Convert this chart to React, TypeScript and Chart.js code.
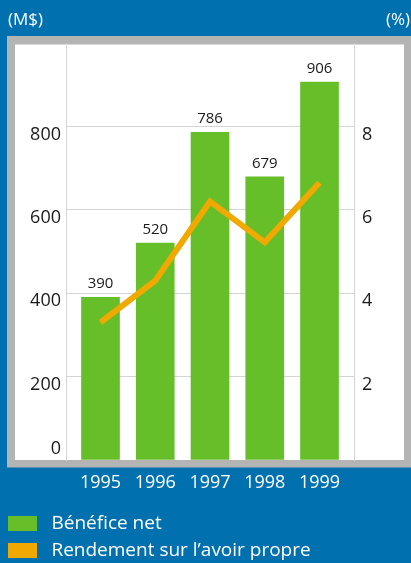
import React, { useEffect, useRef } from 'react';
import { Chart, registerables } from 'chart.js';

Chart.register(...registerables);

// ---- Data ----
const years = ['1995', '1996', '1997', '1998', '1999'];
const netIncome = [390, 520, 786, 679, 906];
const roe = [3.3, 4.3, 6.2, 5.22, 6.65];
const leftTicks = [0, 200, 400, 600, 800];
const rightTicks = [2, 4, 6, 8];
const leftUnit = '(M$)';
const rightUnit = '(%)';
const seriesNames = ['Bénéfice net', 'Rendement sur l’avoir propre'];

// ---- Styles ----
const BLUE = '#0070AF';
const GREEN = '#66BE29';
const ORANGE = '#F0A900';
const FRAME = '#B4B4B4';
const GRID = '#D4D4D4';
const FONT = '"Open Sans", "Noto Sans", sans-serif';

const framePlugin = {
  id: 'frame',
  beforeDraw(chart: any) {
    const { ctx, chartArea, width, height } = chart;
    ctx.save();
    ctx.fillStyle = BLUE;
    ctx.fillRect(0, 0, width, height);
    // gray frame
    ctx.fillStyle = FRAME;
    ctx.fillRect(chartArea.left - 59, chartArea.top - 7, width, chartArea.bottom - chartArea.top + 14.5);
    // white plate
    ctx.fillStyle = '#FFFFFF';
    ctx.fillRect(chartArea.left - 51, chartArea.top + 1.5, chartArea.right + 50 - (chartArea.left - 51), chartArea.bottom - chartArea.top - 1.5);
    // unit labels
    ctx.fillStyle = '#FFFFFF';
    ctx.font = `17px ${FONT}`;
    ctx.textBaseline = 'middle';
    ctx.textAlign = 'left';
    ctx.fillText(leftUnit, 8, 20);
    ctx.textAlign = 'right';
    ctx.fillText(rightUnit, width - 1, 20);
    ctx.restore();
  },
};

const labelsPlugin = {
  id: 'labels',
  afterDraw(chart: any) {
    const { ctx, chartArea } = chart;
    const ys = chart.scales.y;
    const yr = chart.scales.y1;
    ctx.save();
    ctx.font = `18px ${FONT}`;
    ctx.fillStyle = '#1A1A1A';
    ctx.textBaseline = 'middle';
    ctx.textAlign = 'right';
    leftTicks.forEach((v) => {
      const py = ys.getPixelForValue(v);
      ctx.fillText(String(v), chartArea.left - 5, v === 0 ? py - 11 : py + 8);
    });
    ctx.textAlign = 'left';
    rightTicks.forEach((v) => {
      const py = yr.getPixelForValue(v);
      ctx.fillText(String(v), chartArea.right + 8, py + 8);
    });
    // values above bars
    ctx.font = `15px ${FONT}`;
    ctx.textAlign = 'center';
    const meta = chart.getDatasetMeta(0);
    meta.data.forEach((bar: any, i: number) => {
      ctx.fillText(String(netIncome[i]), bar.x, bar.y - 13.5);
    });
    ctx.restore();
  },
};

export default function App() {
  const ref = useRef<HTMLCanvasElement | null>(null);

  useEffect(() => {
    if (!ref.current) return;
    const chart = new Chart(ref.current, {
      type: 'bar',
      data: {
        datasets: [
          {
            type: 'bar',
            label: seriesNames[0],
            data: netIncome.map((v, i) => ({ x: i, y: v })),
            backgroundColor: GREEN,
            borderWidth: 0,
            barThickness: 38,
            yAxisID: 'y',
            order: 1,
          },
          {
            type: 'line',
            label: seriesNames[1],
            data: roe.map((v, i) => ({ x: i, y: v })),
            borderColor: ORANGE,
            backgroundColor: ORANGE,
            borderWidth: 6,
            borderCapStyle: 'butt',
            borderJoinStyle: 'miter',
            pointRadius: 0,
            tension: 0,
            fill: false,
            yAxisID: 'y1',
            order: 0,
          },
        ],
      } as any,
      options: {
        responsive: false,
        animation: false,
        events: [],
        layout: { padding: { top: 43, left: 0, right: 0, bottom: 0 } },
        scales: {
          x: {
            type: 'linear',
            min: -0.63,
            max: 4.63,
            offset: false,
            afterBuildTicks: (scale: any) => {
              scale.ticks = years.map((_, i) => ({ value: i }));
            },
            afterFit: (scale: any) => {
              scale.height = 46;
            },
            grid: { display: false, drawTicks: false, offset: false },
            border: { display: false },
            ticks: {
              color: '#FFFFFF',
              font: { family: FONT, size: 18 },
              padding: 12,
              autoSkip: false,
              maxRotation: 0,
              callback: (v: any) => years[v] ?? '',
            },
          },
          y: {
            position: 'left',
            min: 0,
            max: 1000,
            afterBuildTicks: (scale: any) => {
              scale.ticks = [0, 200, 400, 600, 800, 1000].map((v) => ({ value: v }));
            },
            afterFit: (scale: any) => {
              scale.width = 66;
            },
            grid: {
              drawTicks: false,
              color: (c: any) => (c.tick && (c.tick.value === 0 || c.tick.value === 1000) ? 'rgba(0,0,0,0)' : GRID),
              lineWidth: 1,
            },
            border: { display: true, color: GRID, width: 1 },
            ticks: { display: false },
          },
          y1: {
            position: 'right',
            min: 0,
            max: 10,
            afterFit: (scale: any) => {
              scale.width = 57;
            },
            grid: { display: false, drawTicks: false },
            border: { display: true, color: GRID, width: 1 },
            ticks: { display: false },
          },
        },
        plugins: {
          tooltip: { enabled: false },
          legend: {
            position: 'bottom',
            align: 'start',
            labels: {
              color: '#FFFFFF',
              font: { family: FONT, size: 19 },
              boxWidth: 29,
              boxHeight: 15,
              padding: 8,
              sort: (a: any, b: any) => a.datasetIndex - b.datasetIndex,
              generateLabels: (c: any) =>
                (Chart.defaults.plugins.legend.labels as any).generateLabels(c).map((l: any) => ({
                  ...l,
                  text: ' ' + l.text,
                  lineWidth: 0,
                  fillStyle: c.data.datasets[l.datasetIndex].backgroundColor,
                })),
            },
          },
        },
      } as any,
      plugins: [framePlugin, labelsPlugin],
    });
    return () => chart.destroy();
  }, []);

  return (
    <div
      style={{
        position: 'fixed',
        left: 0,
        top: 0,
        width: 411,
        height: 563,
        overflow: 'hidden',
        background: BLUE,
      }}
    >
      <canvas ref={ref} width={411} height={570} style={{ display: 'block' }} />
    </div>
  );
}
